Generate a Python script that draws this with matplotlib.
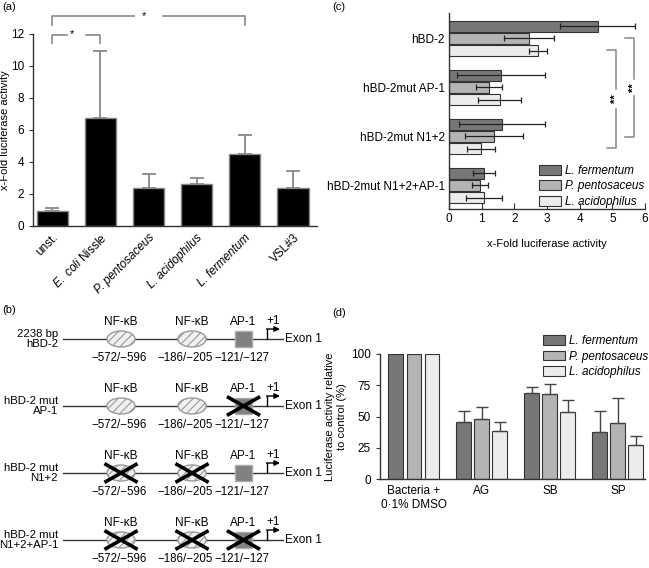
import numpy as np
import matplotlib
matplotlib.use("Agg")
import matplotlib.pyplot as plt
from matplotlib.patches import Ellipse, Rectangle

plt.rcParams['font.family'] = ['Liberation Sans', 'DejaVu Sans']
plt.rcParams['font.size'] = 8
plt.rcParams['mathtext.fontset'] = 'custom'
plt.rcParams['mathtext.rm'] = 'Liberation Sans'
plt.rcParams['mathtext.it'] = 'Liberation Sans:italic'
plt.rcParams['hatch.linewidth'] = 0.8

W, H = 649, 568

# ---- data: panel (a) ----
a_labels = ['unst.', r'$\mathit{E.\ coli}$ Nissle', 'P. pentosaceus',
            'L. acidophilus', 'L. fermentum', 'VSL#3']
a_italic = [False, False, True, True, True, False]
a_mean = [0.95, 6.75, 2.4, 2.65, 4.5, 2.35]
a_top = [1.1, 10.95, 3.25, 3.0, 5.7, 3.45]   # upper end of error bar

# ---- data: panel (b) ----
b_rows = ['2238 bp\nhBD-2', 'hBD-2 mut\nAP-1', 'hBD-2 mut\nN1+2', 'hBD-2 mut\nN1+2+AP-1']
b_sites = ['NF-κB', 'NF-κB', 'AP-1']
b_pos = ['\u2212572/\u2212596', '\u2212186/\u2212205', '\u2212121/\u2212127']
b_mut = [[0, 0, 0], [0, 0, 1], [1, 1, 0], [1, 1, 1]]

# ---- data: panel (c) ----
c_groups = ['hBD-2', 'hBD-2mut AP-1', 'hBD-2mut N1+2', 'hBD-2mut N1+2+AP-1']
strains = ['L. fermentum', 'P. pentosaceus', 'L. acidophilus']
c_ferm = [4.55, 1.6, 1.63, 1.07]
c_ferm_err = [1.15, 1.35, 1.32, 0.35]
c_pent = [2.45, 1.22, 1.37, 0.95]
c_pent_err = [0.77, 0.4, 0.88, 0.25]
c_acid = [2.72, 1.55, 0.98, 1.06]
c_acid_err = [0.28, 0.65, 0.44, 0.55]

# ---- data: panel (d) ----
d_groups = ['Bacteria +\n0\u00b71% DMSO', 'AG', 'SB', 'SP']
d_ferm = [100, 45.5, 69, 37.5]
d_ferm_top = [100, 54.8, 74, 54.3]
d_pent = [100, 48, 68.3, 45]
d_pent_top = [100, 58, 76, 64.6]
d_acid = [100, 38.3, 53.4, 27.5]
d_acid_top = [100, 45.3, 63, 34.8]

COLORS = ['#777777', '#b4b4b4', '#ececec']
EDGE = '#333333'

fig = plt.figure(figsize=(W / 100, H / 100), dpi=100)


def px_axes(l, t, r, b):
    return fig.add_axes([l / W, 1 - b / H, (r - l) / W, (b - t) / H])


def style(ax):
    for s in ('top', 'right'):
        ax.spines[s].set_visible(False)
    for s in ('left', 'bottom'):
        ax.spines[s].set_color('#333333')
        ax.spines[s].set_linewidth(1.0)


# -----------------------------------------------------------------------------
# (a)
# -----------------------------------------------------------------------------
ax = px_axes(33, 34, 317, 226)
style(ax)
xa = np.arange(len(a_mean))
ax.bar(xa, a_mean, width=0.65, color='black', edgecolor='#888888', lw=1)
up = np.array(a_top) - np.array(a_mean)
ax.errorbar(xa, a_mean, yerr=[np.zeros_like(up), up], fmt='none',
            ecolor='#888888', elinewidth=1.3, capsize=5, capthick=1.3)
ax.set_xlim(-0.4, 5.5)
ax.set_ylim(0, 12)
ax.set_yticks(range(0, 13, 2))
ax.tick_params(axis='y', direction='out', length=3, color='#333333', labelsize=8.5)
ax.tick_params(axis='x', length=0, pad=4, labelsize=8.5)
ax.set_xticks(xa)
ax.set_xticklabels(a_labels, rotation=45, ha='right', rotation_mode='anchor')
for t, it in zip(ax.get_xticklabels(), a_italic):
    if it:
        t.set_fontstyle('italic')
ax.set_ylabel('x-Fold luciferase activity')
ax.yaxis.set_label_coords((9.5 - 33) / 284, 0.5)


def hbracket(ax, x0, x1, y, drop, gap, label):
    xm = (x0 + x1) / 2
    kw = dict(color='#888888', lw=1.2, clip_on=False)
    ax.plot([x0, x0, xm - gap], [y - drop, y, y], **kw)
    ax.plot([xm + gap, x1, x1], [y, y, y - drop], **kw)
    ax.text(xm - 0.1, y + 0.05, label, ha='center', va='center', clip_on=False)


hbracket(ax, 0, 4, 13.1, 0.55, 0.3, '*')
hbracket(ax, 0, 1, 11.95, 0.5, 0.2, '*')

# -----------------------------------------------------------------------------
# (b) promoter constructs
# -----------------------------------------------------------------------------
axb = px_axes(0, 290, 340, 568)
axb.set_xlim(0, 340)
axb.set_ylim(568, 290)
axb.axis('off')
row_y = [339, 406, 473, 540]
site_x = [121, 192, 243.5]
pos_x = [119, 185, 242]
for ry, lbl, mut in zip(row_y, b_rows, b_mut):
    axb.plot([63, 283], [ry, ry], color='#333333', lw=1)
    axb.text(58, ry, lbl, ha='right', va='center', multialignment='right',
             linespacing=1.05, fontsize=8.2)
    for k, (sx, px, name, pos) in enumerate(zip(site_x, pos_x, b_sites, b_pos)):
        if name == 'AP-1':
            axb.add_patch(Rectangle((sx - 8.5, ry - 8), 17, 16, facecolor='#808080',
                                    edgecolor='#aaaaaa', lw=1, zorder=3))
        else:
            axb.add_patch(Ellipse((sx, ry), 28, 16, facecolor='#f0f0f0',
                                  edgecolor='#999999', hatch='////', lw=1, zorder=3))
        axb.text(sx, ry - 17, name, ha='center', va='center', fontsize=8.5)
        axb.text(px, ry + 19, pos, ha='center', va='center', fontsize=8.3)
        if mut[k]:
            axb.plot([sx - 15, sx + 15], [ry - 8.5, ry + 8.5], color='black', lw=2.6, zorder=4)
            axb.plot([sx - 15, sx + 15], [ry + 8.5, ry - 8.5], color='black', lw=2.6, zorder=4)
    axb.plot([267, 267], [ry, ry - 10], color='black', lw=1)
    axb.annotate('', xy=(280, ry - 10), xytext=(266.5, ry - 10),
                 arrowprops=dict(arrowstyle='-|>', color='black', lw=1,
                                 mutation_scale=8, shrinkA=0, shrinkB=0))
    axb.text(273, ry - 18, '+1', ha='center', va='center', fontsize=8.5)
    axb.text(285, ry, 'Exon 1', ha='left', va='center', fontsize=8.5)

# -----------------------------------------------------------------------------
# (c)
# -----------------------------------------------------------------------------
axc = px_axes(449, 13, 645, 209)
style(axc)
yc = np.arange(len(c_groups))
c_vals = [(c_ferm, c_ferm_err), (c_pent, c_pent_err), (c_acid, c_acid_err)]
for j, (vals, err) in enumerate(c_vals):
    axc.barh(yc + (j - 1) * 0.25, vals, height=0.23, xerr=err, color=COLORS[j],
             edgecolor=EDGE, lw=0.8, label=strains[j],
             error_kw=dict(ecolor='#222222', elinewidth=0.9, capsize=2.5, capthick=0.9))
axc.set_xlim(0, 6)
axc.set_ylim(3.48, -0.52)
axc.set_xticks(range(0, 7))
axc.tick_params(axis='x', direction='in', length=4, color='#333333', pad=3,
                labelsize=8.5)
axc.set_yticks(yc)
axc.set_yticklabels(c_groups)
axc.tick_params(axis='y', length=0, pad=3, labelsize=8.5)
axc.set_xlabel('x-Fold luciferase activity', labelpad=10)


def vbracket(ax, x, y0, y1, tick, gap):
    ym = (y0 + y1) / 2
    kw = dict(color='#888888', lw=1.1, clip_on=False)
    ax.plot([x - tick, x, x], [y0, y0, ym - gap], **kw)
    ax.plot([x, x, x - tick], [ym + gap, y1, y1], **kw)
    ax.text(x, ym, '**', rotation=90, ha='center', va='center', fontsize=8,
            fontweight='bold', clip_on=False)


vbracket(axc, 5.11, 0.235, 2.235, 0.27, 0.2)
vbracket(axc, 5.66, -0.01, 2.01, 0.27, 0.17)

legc = axc.legend(loc='lower right', bbox_to_anchor=(1.0, 0.0), frameon=False,
                  handlelength=1.9, handleheight=0.9, handletextpad=0.3,
                  labelspacing=0.3, borderaxespad=0.1, borderpad=0,
                  fontsize=8.5)
for t in legc.get_texts():
    t.set_fontstyle('italic')

# -----------------------------------------------------------------------------
# (d)
# -----------------------------------------------------------------------------
axd = px_axes(380, 354, 645, 479)
style(axd)
xd = np.arange(len(d_groups))
d_vals = [(d_ferm, d_ferm_top), (d_pent, d_pent_top), (d_acid, d_acid_top)]
for j, (vals, top) in enumerate(d_vals):
    xx = xd + (j - 1) * 0.265
    axd.bar(xx, vals, width=0.22, color=COLORS[j], edgecolor=EDGE, lw=0.8,
            label=strains[j])
    e = np.array(top) - np.array(vals)
    m = e > 0
    axd.errorbar(xx[m], np.array(vals)[m], yerr=[np.zeros(m.sum()), e[m]], fmt='none',
                 ecolor='#444444', elinewidth=1, capsize=4, capthick=1)
axd.set_xlim(-0.5, 3.4)
axd.set_ylim(0, 100)
axd.set_yticks([0, 25, 50, 75, 100])
axd.tick_params(axis='y', direction='out', length=3, color='#333333', labelsize=8.5)
axd.set_xticks(xd)
axd.set_xticklabels(d_groups, linespacing=1.3)
axd.tick_params(axis='x', length=0, pad=4, labelsize=8.5)
axd.set_ylabel('Luciferase activity relative\nto control (%)')
axd.yaxis.set_label_coords((347 - 380) / 265, 0.5)
legd = axd.legend(loc='upper left', bbox_to_anchor=(543 / W, 1 - 335 / H),
                  bbox_transform=fig.transFigure, frameon=False,
                  handlelength=1.9, handleheight=0.9, handletextpad=0.3,
                  labelspacing=0.3, borderaxespad=0, borderpad=0, fontsize=8.5)
for t in legd.get_texts():
    t.set_fontstyle('italic')

# panel labels
for lbl, x, y in [('(a)', 2, 7), ('(c)', 332, 7), ('(b)', 2, 310), ('(d)', 332, 313)]:
    fig.text(x / W, 1 - y / H, lbl, ha='left', va='center', fontsize=8)

fig.savefig('out.png', dpi=100)
